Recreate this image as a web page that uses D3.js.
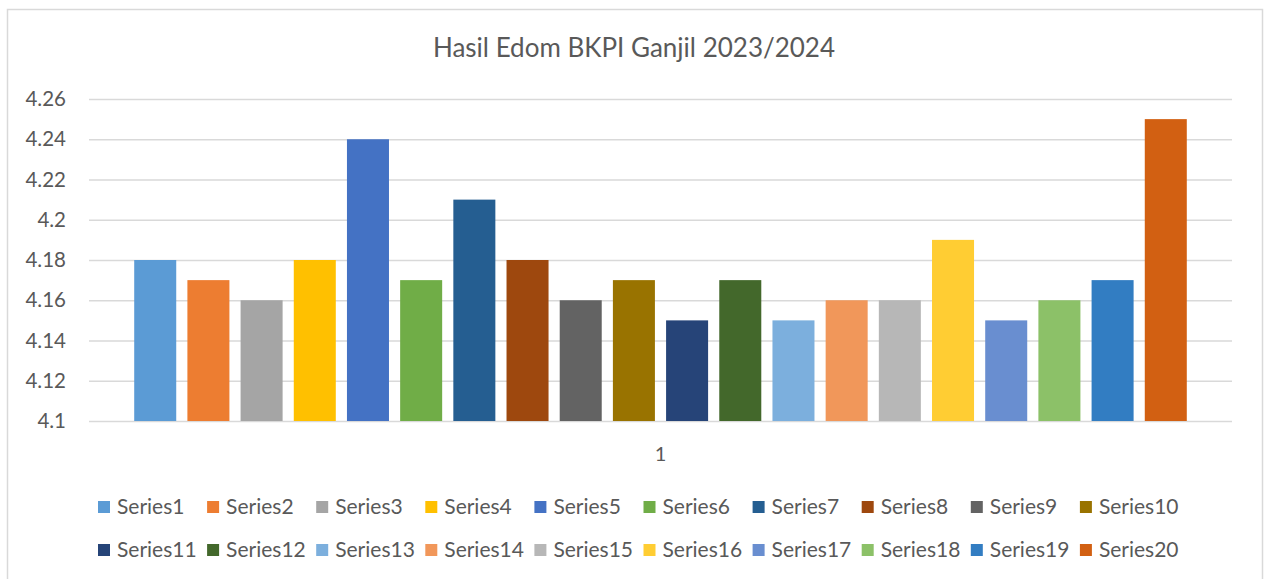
<!DOCTYPE html>
<html>
<head>
<meta charset="utf-8">
<script src="https://cdn.jsdelivr.net/npm/d3@7"></script>
<style>
  body { margin: 0; background: #fff; }
  #chart { width: 1264px; height: 579px; }
  text { font-family: Lato, "Open Sans", sans-serif; fill: #595959; }
</style>
</head>
<body>
<div id="chart"></div>
<script>
const title = "Hasil Edom BKPI Ganjil 2023/2024";
const seriesNames = d3.range(1, 21).map(i => "Series" + i);
const seriesValues = [4.18, 4.17, 4.16, 4.18, 4.24, 4.17, 4.21, 4.18, 4.16, 4.17,
                      4.15, 4.17, 4.15, 4.16, 4.16, 4.19, 4.15, 4.16, 4.17, 4.25];
const seriesColors = ["#5B9BD5", "#ED7D31", "#A5A5A5", "#FFC000", "#4472C4",
                      "#70AD47", "#255E91", "#9E480E", "#636363", "#997300",
                      "#264478", "#43682B", "#7CAFDD", "#F1975A", "#B7B7B7",
                      "#FFCD33", "#698ED0", "#8CC168", "#327DC2", "#D26012"];
const yTicks = [4.1, 4.12, 4.14, 4.16, 4.18, 4.2, 4.22, 4.24, 4.26];
const categoryLabel = "1";

const data = seriesNames.map((name, i) => ({ name, value: seriesValues[i], color: seriesColors[i] }));

const width = 1264, height = 579;
const margin = { left: 89, right: 32, top: 99, bottom: 158 };
const innerWidth = width - margin.left - margin.right;
const innerHeight = height - margin.top - margin.bottom;

const svg = d3.select("#chart").append("svg")
  .attr("width", width)
  .attr("height", height);

// chart area border (bottom edge falls below the window)
svg.append("rect")
  .attr("x", 7.5).attr("y", 9.5)
  .attr("width", 1255).attr("height", 580)
  .attr("fill", "none")
  .attr("stroke", "#d9d9d9")
  .attr("stroke-width", 1.5);

svg.append("text")
  .attr("x", 634).attr("y", 57)
  .attr("text-anchor", "middle")
  .attr("font-size", "26px")
  .text(title);

const mainGroup = svg.append("g")
  .attr("transform", `translate(${margin.left},${margin.top})`);

const xScale = d3.scaleBand()
  .domain(seriesNames)
  .range([0, innerWidth])
  .paddingInner(0.21)
  .paddingOuter(0.85);

const yScale = d3.scaleLinear()
  .domain([4.1, 4.26])
  .range([innerHeight, 0]);

const yAxis = d3.axisLeft(yScale)
  .tickValues(yTicks)
  .tickSize(-innerWidth)
  .tickPadding(23)
  .tickFormat(d => d3.format("~g")(d));

mainGroup.append("g")
  .attr("class", "y-axis")
  .call(yAxis)
  .call(g => g.select(".domain").remove())
  .call(g => g.selectAll(".tick line").attr("stroke", "#d9d9d9").attr("stroke-width", 1.5))
  .call(g => g.selectAll(".tick text").attr("font-size", "20.5px").attr("fill", "#595959")
    .attr("font-family", "Lato, 'Open Sans', sans-serif"));

mainGroup.selectAll("rect.bar")
  .data(data)
  .join("rect")
  .attr("class", "bar")
  .attr("x", d => xScale(d.name))
  .attr("width", xScale.bandwidth())
  .attr("y", d => yScale(d.value))
  .attr("height", d => innerHeight - yScale(d.value))
  .attr("fill", d => d.color);

mainGroup.append("text")
  .attr("x", innerWidth / 2)
  .attr("y", innerHeight + 40)
  .attr("text-anchor", "middle")
  .attr("font-size", "20px")
  .text(categoryLabel);

// legend, two rows of ten
const legend = svg.append("g").attr("class", "legend");
const legendItems = legend.selectAll("g")
  .data(data)
  .join("g")
  .attr("transform", (d, i) => `translate(${98 + (i % 10) * 109.1},${507 + Math.floor(i / 10) * 43})`);

legendItems.append("rect")
  .attr("x", 0).attr("y", -6)
  .attr("width", 12).attr("height", 12)
  .attr("fill", d => d.color);

legendItems.append("text")
  .attr("x", 19).attr("y", 0)
  .attr("dy", "0.35em")
  .attr("font-size", "21px")
  .text(d => d.name);
</script>
</body>
</html>
